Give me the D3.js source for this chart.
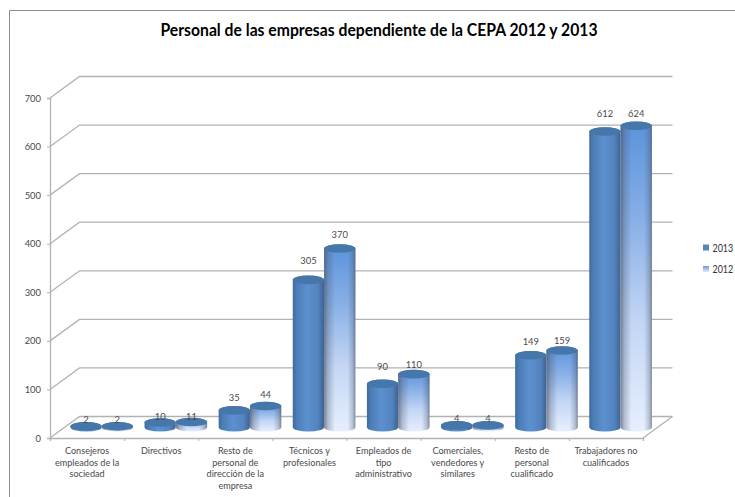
<!DOCTYPE html>
<html>
<head>
<meta charset="utf-8">
<script src="https://cdn.jsdelivr.net/npm/d3@7"></script>
<style>
  html, body { margin: 0; background: #fff; }
  svg { display: block; font-family: Lato, sans-serif; }
</style>
</head>
<body>
<svg id="chart" width="735" height="497"></svg>
<script>
const title = 'Personal de las empresas dependiente de la CEPA 2012 y 2013';
const categories = [
  ['Consejeros', 'empleados de la', 'sociedad'],
  ['Directivos'],
  ['Resto de', 'personal de', 'dirección de la', 'empresa'],
  ['Técnicos y', 'profesionales'],
  ['Empleados de', 'tipo', 'administrativo'],
  ['Comerciales,', 'vendedores y', 'similares'],
  ['Resto de', 'personal', 'cualificado'],
  ['Trabajadores no', 'cualificados']
];
const seriesNames = ['2013', '2012'];
const values2013 = [2, 10, 35, 305, 90, 4, 149, 612];
const values2012 = [2, 11, 44, 370, 110, 4, 159, 624];
const yTicks = [0, 100, 200, 300, 400, 500, 600, 700];

// chart box, the floor is skewed back by depth
const x0 = 50, x1 = 643, yBase = 438, yTop = 98;
const depth = { x: 29.5, y: -21.5 };
const grey = '#b2b2b2';
const textColor = '#4a4a4a';

const svg = d3.select('#chart');
const defs = svg.append('defs');

// front plane of the box
const y = d3.scaleLinear().domain([0, 700]).range([yBase, yTop]);
// plane the cylinders stand on
const yBar = d3.scaleLinear().domain([0, 700]).range([427.3, 89]);
const xTicks = d3.scaleLinear().domain([0, 8]).range([x0, x1]);
const xCat = d3.scaleBand().domain(d3.range(8)).range([x0, x1]);
const xSeries = d3.scaleBand().domain(seriesNames).range([x0 + 20.4, x0 + 83]);

// gradients
const gradient = (id, horizontal, stops) => {
  let g = defs.append('linearGradient').attr('id', id)
    .attr('x1', 0).attr('y1', 0)
    .attr('x2', horizontal ? 1 : 0).attr('y2', horizontal ? 0 : 1);
  stops.forEach(s => g.append('stop')
    .attr('offset', s[0]).attr('stop-color', s[1]).attr('stop-opacity', s[2] === undefined ? 1 : s[2]));
};
gradient('body2013', true, [[0, '#3f6a9c'], [0.12, '#4b7cb5'], [0.45, '#5c90cf'], [0.8, '#5484c0'], [1, '#3d6390']]);
gradient('body2012', false, [[0, '#5a92da'], [0.3, '#85aee6'], [0.65, '#c3d6f5'], [1, '#e6effe']]);
gradient('shade2012', true, [[0, '#4a5468', 0.7], [0.12, '#4a5468', 0.32], [0.35, '#4a5468', 0], [0.75, '#4a5468', 0], [0.92, '#4a5468', 0.3], [1, '#4a5468', 0.65]]);
gradient('swatch2012', false, [[0, '#6b9bd8'], [1, '#dfe9fa']]);

// title
svg.append('text')
  .attr('x', 379).attr('y', 35.5)
  .attr('text-anchor', 'middle')
  .attr('font-size', 16.5).attr('font-weight', 700).attr('fill', '#000')
  .attr('textLength', 437).attr('lengthAdjust', 'spacingAndGlyphs')
  .text(title);

// chart frame, open at the right and the bottom
svg.append('path')
  .attr('d', d3.line()([[9.5, 497], [9.5, 10.5], [735, 10.5]]))
  .attr('fill', 'none').attr('stroke', '#8c8c8c').attr('stroke-width', 1);

// back wall lines and their left wall continuation
const grid = svg.append('g').attr('fill', 'none').attr('stroke', grey).attr('stroke-width', 1.3);
grid.selectAll('path.grid').data(yTicks).enter().append('path')
  .attr('class', 'grid')
  .attr('d', t => d3.line()([
    [x0, y(t)],
    [x0 + depth.x, y(t) + depth.y],
    [x1 + depth.x, y(t) + depth.y]
  ]));
// floor right edge
grid.append('path')
  .attr('d', d3.line()([[x1 + depth.x, yBase + depth.y], [x1, yBase]]));

// axes
const yAxis = d3.axisLeft(y).tickValues(yTicks).tickSize(3).tickPadding(6);
const xAxis = d3.axisBottom(xTicks).ticks(8).tickSize(3).tickFormat('');

let gy = svg.append('g').attr('transform', 'translate(' + x0 + ',0)').call(yAxis);
gy.selectAll('text').attr('font-size', 9.4).attr('font-family', 'Lato, sans-serif').attr('fill', textColor);
let gx = svg.append('g').attr('transform', 'translate(0,' + yBase + ')').call(xAxis);
svg.selectAll('.domain').attr('stroke', grey).attr('stroke-width', 1.3);
svg.selectAll('.tick line').attr('stroke', grey);

// category labels
let labels = svg.append('g').attr('text-anchor', 'middle')
  .attr('font-size', 9.1).attr('fill', textColor);
labels.selectAll('text').data(categories).enter().append('text')
  .attr('transform', (d, i) => 'translate(' + (xCat(i) + xCat.bandwidth() / 2) + ',454)')
  .selectAll('tspan').data(d => d).enter().append('tspan')
  .attr('x', 0)
  .attr('y', (d, i) => i * 11.7)
  .text(d => d);

// cylinders
const ry = 4.3;
const rx = xSeries.bandwidth() / 2;

// body outline from the top ellipse centre line down to the base ellipse
const bodyPath = (left, top, base) => {
  let w = rx * 2;
  return 'M' + left + ',' + top +
    'A' + rx + ',' + ry + ' 0 0 1 ' + (left + w) + ',' + top +
    'L' + (left + w) + ',' + base +
    'A' + rx + ',' + ry + ' 0 0 1 ' + left + ',' + base + 'Z';
};

// lift of each value label above its cylinder, as placed in the picture
const labelLift = [[6.5, 5, 12, 19, 16.5, 6, 13, 18], [6.5, 5, 11, 13, 9, 6, 9, 12]];
const allValues = [values2013, values2012];

seriesNames.forEach((name, s) => {
  let g = svg.append('g').attr('class', 's' + name);
  let bars = g.selectAll('g').data(allValues[s]).enter().append('g');
  let left = i => xCat(i) + xSeries(name) - x0;

  bars.append('path')
    .attr('d', (d, i) => bodyPath(left(i), yBar(d), yBar(0)))
    .attr('fill', 'url(#body' + name + ')');
  if (s == 1) {
    bars.append('path')
      .attr('d', (d, i) => bodyPath(left(i), yBar(d), yBar(0)))
      .attr('fill', 'url(#shade2012)');
  }
  bars.append('ellipse')
    .attr('cx', (d, i) => left(i) + rx)
    .attr('cy', d => yBar(d))
    .attr('rx', rx).attr('ry', ry)
    .attr('fill', '#4677aa');
  bars.append('text')
    .attr('x', (d, i) => left(i) + rx)
    .attr('y', (d, i) => yBar(d) - labelLift[s][i] + 3)
    .attr('text-anchor', 'middle')
    .attr('font-size', 9.4).attr('fill', textColor)
    .text(d => d);
});

// legend
let legend = svg.append('g').selectAll('g').data(seriesNames).enter().append('g')
  .attr('transform', (d, i) => 'translate(703,' + (247.5 + i * 21.5) + ')');
legend.append('rect')
  .attr('x', 0).attr('y', -3).attr('width', 6).attr('height', 6)
  .attr('fill', (d, i) => i == 0 ? '#5585bd' : 'url(#swatch2012)');
// squeezed sideways, the labels run up to the window edge
legend.append('text')
  .attr('transform', 'translate(9.5,4) scale(0.85,1)')
  .attr('font-size', 10.5).attr('fill', '#333')
  .text(d => d);
</script>
</body>
</html>
